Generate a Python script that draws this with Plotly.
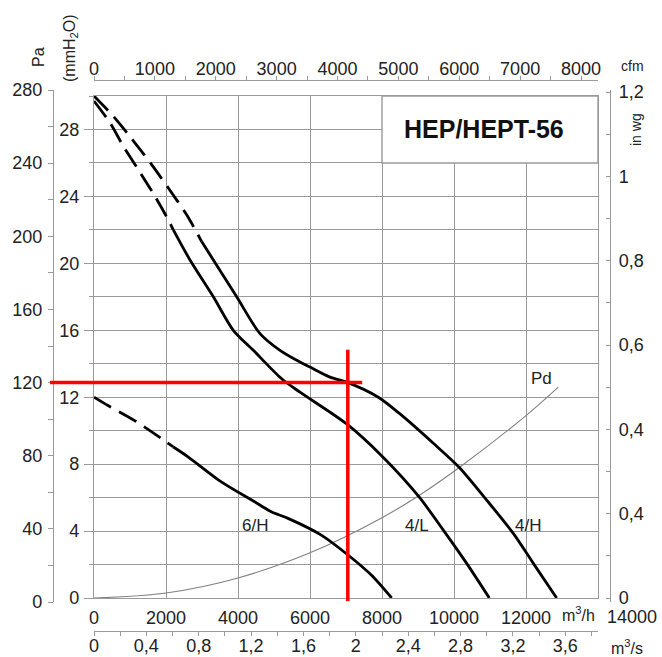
import plotly.graph_objects as go

# ---------------- data ----------------
# flow in m3/h, static pressure in mmH2O
flow_4H = [0, 490, 954, 1602, 2064, 2574, 2991, 3963, 4611, 5167, 5722, 6000, 6556,
           7019, 7897, 8500, 9425, 10147, 10908, 11647, 12203, 12852]
pres_4H = [30.0, 28.9, 27.7, 25.9, 24.5, 22.9, 21.3, 18.0, 15.8, 14.8, 14.1, 13.8, 13.2,
           12.9, 12.0, 11.0, 9.25, 7.8, 5.85, 3.86, 2.07, 0.0]
solid_from_4H = 2991

flow_4L = [0, 444, 815, 1231, 1694, 2064, 2204, 2667, 3315, 3870, 4426, 5213, 5722,
           7019, 8037, 9008, 9703, 10352, 10981]
pres_4L = [29.7, 28.4, 27.0, 25.6, 24.0, 22.6, 22.0, 20.2, 18.0, 16.0, 14.8, 13.1, 12.3,
           10.4, 8.4, 6.1, 4.06, 2.07, 0.0]
solid_from_4L = 2204

flow_6H = [0, 389, 1130, 2009, 2194, 2611, 3537, 4463, 4926, 5389, 6314, 7056, 7703, 8269]
pres_6H = [12.0, 11.5, 10.6, 9.33, 9.04, 8.44, 6.94, 5.75, 5.15, 4.76, 3.76, 2.57, 1.37, 0.0]
solid_from_6H = 2194

flow_Pd = [0, 2000, 4000, 6000, 8000, 9008, 10147, 12000, 12897]
pres_Pd = [0.0, 0.3, 1.2, 2.7, 4.8, 6.1, 7.8, 10.9, 12.6]

curve_names = ["4/H", "4/L", "6/H", "Pd"]
label_flow = [12064, 8963, 4464, 12435]
label_pres = [4.36, 4.36, 4.36, 13.1]

# operating point (red cross)
op_flow = 7050      # m3/h
op_pa = 120         # Pa

# axis tick labels
mh_ticks = [0, 2000, 4000, 6000, 8000, 10000, 12000]
mmh2o_ticks = [0, 4, 8, 12, 16, 20, 24, 28]
pa_ticks = [0, 40, 80, 120, 160, 200, 240, 280]
cfm_ticks = [0, 1000, 2000, 3000, 4000, 5000, 6000, 7000, 8000]
m3s_vals = [0, 0.4, 0.8, 1.2, 1.6, 2.0, 2.4, 2.8, 3.2, 3.6]
m3s_text = ["0", "0,4", "0,8", "1,2", "1,6", "2", "2,4", "2,8", "3,2", "3,6"]
inwg_vals = [0, 0.2, 0.4, 0.6, 0.8, 1.0, 1.2]
inwg_text = ["0", "0,4", "0,4", "0,6", "0,8", "1", "1,2"]
title_text = "HEP/HEPT-56"

# ---------------- layout geometry ----------------
W, H = 662, 657
ML, MR, MT, MB = 48, 40, 80, 26
PW, PH = W - ML - MR, H - MT - MB


def fx(px):
    return (px - ML) / PW


def fy(py):
    return (H - MB - py) / PH


X_L, X_R = 94, 598       # main plot area, pixels
Y_T, Y_B = 96, 598
FLOW_MAX = 14000

FONT = "Liberation Sans, Arial, sans-serif"
TXT = "#222222"
GRID = "#9a9a9a"
TICKFONT = dict(family=FONT, size=18, color=TXT)

fig = go.Figure()


def add_curve(flow, pres, solid_from):
    fd = [f for f in flow if f <= solid_from]
    pdv = [p for f, p in zip(flow, pres) if f <= solid_from]
    fs = [f for f in flow if f >= solid_from]
    ps = [p for f, p in zip(flow, pres) if f >= solid_from]
    fig.add_trace(go.Scatter(x=fd, y=pdv, mode="lines", line_shape="spline",
                             line=dict(color="black", width=2.8, dash="20px,9px", smoothing=0.8),
                             hoverinfo="skip", showlegend=False))
    fig.add_trace(go.Scatter(x=fs, y=ps, mode="lines", line_shape="spline",
                             line=dict(color="black", width=2.8, smoothing=0.8),
                             hoverinfo="skip", showlegend=False))


fig.add_trace(go.Scatter(x=flow_Pd, y=pres_Pd, mode="lines", line_shape="spline",
                         line=dict(color="#808080", width=1.1),
                         hoverinfo="skip", showlegend=False))
add_curve(flow_4H, pres_4H, solid_from_4H)
add_curve(flow_4L, pres_4L, solid_from_4L)
add_curve(flow_6H, pres_6H, solid_from_6H)

# invisible carrier traces so the secondary axes are drawn
dummy = dict(mode="markers", marker=dict(opacity=0, size=1), hoverinfo="skip", showlegend=False)
fig.add_trace(go.Scatter(x=[0], y=[0], xaxis="x2", yaxis="y", **dummy))
fig.add_trace(go.Scatter(x=[0], y=[0], xaxis="x3", yaxis="y", **dummy))
fig.add_trace(go.Scatter(x=[0], y=[0], xaxis="x4", yaxis="y2", **dummy))
fig.add_trace(go.Scatter(x=[0], y=[0], xaxis="x4", yaxis="y3", **dummy))

# Pa axis geometry (own domain, slightly taller than the plot)
PA_Y0, PA_Y1 = 602, 90
# in wg: 0 at 598, 1.2 at 92, overlaid on the Pa axis domain
wg_scale = (598 - 92) / 1.2
wg_lo = -(PA_Y0 - 598) / wg_scale
wg_hi = 1.2 + (92 - PA_Y1) / wg_scale
# cfm: 8000 cfm sits at x=581
cfm_scale = (581 - X_L) / 8000.0
cfm_lo = 0
cfm_hi = (X_R - X_L) / cfm_scale

common = dict(automargin=False, zeroline=False, fixedrange=True, exponentformat="none",
              separatethousands=False)

fig.update_layout(
    template="none",
    width=W, height=H,
    margin=dict(l=ML, r=MR, t=MT, b=MB, pad=0, autoexpand=False),
    paper_bgcolor="white", plot_bgcolor="rgba(0,0,0,0)",
    font=dict(family=FONT, color=TXT),
    showlegend=False,
    xaxis=dict(domain=[fx(X_L), fx(X_R)], range=[0, FLOW_MAX], anchor="y",
               tickvals=mh_ticks, ticktext=[str(v) for v in mh_ticks],
               ticks="", tickfont=TICKFONT, ticklabelstandoff=3,
               showgrid=True, gridcolor=GRID, gridwidth=1.4,
               showline=True, linecolor=GRID, linewidth=1.4, mirror=True, **common),
    yaxis=dict(domain=[fy(Y_B), fy(Y_T)], range=[0, 30], anchor="x",
               tickvals=mmh2o_ticks, ticks="outside", ticklen=9, tickcolor=GRID, tickwidth=1.4,
               tickfont=TICKFONT, ticklabelstandoff=1,
               minor=dict(dtick=2, tick0=0, ticks="outside", ticklen=4, tickcolor=GRID,
                          showgrid=True, gridcolor=GRID, gridwidth=1.4),
               showgrid=True, gridcolor=GRID, gridwidth=1.4,
               showline=True, linecolor=GRID, linewidth=1.4, mirror=True, **common),
    xaxis2=dict(overlaying="x", anchor="free", position=1, side="top",
                range=[cfm_lo, cfm_hi], tickvals=cfm_ticks,
                ticktext=[str(v) for v in cfm_ticks], ticks="outside", ticklen=4,
                tickcolor=GRID, tickwidth=1.2,
                minor=dict(dtick=500, tick0=0, ticks="outside", ticklen=4, tickcolor=GRID),
                tickfont=TICKFONT, ticklabelstandoff=-6,
                showgrid=False, showline=True, linecolor=GRID, linewidth=1.4, **common),
    xaxis3=dict(overlaying="x", anchor="free", position=0, side="bottom",
                range=[0, 3.85], tickvals=m3s_vals, ticktext=m3s_text,
                ticks="outside", ticklen=4, tickcolor=GRID, tickwidth=1.2,
                minor=dict(dtick=0.2, tick0=0, ticks="outside", ticklen=4, tickcolor=GRID),
                tickfont=TICKFONT, ticklabelstandoff=-6,
                showgrid=False, showline=True, linecolor=GRID, linewidth=1.4, **common),
    xaxis4=dict(domain=[fx(X_L), fx(X_R)], range=[0, FLOW_MAX], anchor="y2",
                visible=False, showgrid=False, **common),
    yaxis2=dict(domain=[fy(PA_Y0), fy(PA_Y1)], range=[0, 280], anchor="free",
                position=fx(53), side="left",
                tickvals=pa_ticks, ticks="outside", ticklen=5, tickcolor=GRID, tickwidth=1.2,
                minor=dict(dtick=20, tick0=0, ticks="outside", ticklen=5, tickcolor=GRID),
                tickfont=TICKFONT, ticklabelstandoff=2,
                showgrid=False, showline=True, linecolor=GRID, linewidth=1.4, **common),
    yaxis3=dict(overlaying="y2", anchor="free", position=fx(610), side="right",
                range=[wg_lo, wg_hi], tickvals=inwg_vals, ticktext=inwg_text,
                ticks="inside", ticklen=4, tickcolor=GRID, tickwidth=1.2,
                minor=dict(dtick=0.1, tick0=0, ticks="inside", ticklen=4, tickcolor=GRID),
                tickfont=TICKFONT, ticklabelstandoff=4,
                showgrid=False, showline=True, linecolor=GRID, linewidth=1.4, **common),
)

# title box (covers the grid in the top-right corner)
fig.add_shape(type="rect", xref="x", yref="y", x0=8000, x1=FLOW_MAX, y0=26, y1=30,
              fillcolor="white", line=dict(color=GRID, width=1.4), layer="above")
fig.add_annotation(x=10830, y=28.0, xref="x", yref="y", text="<b>" + title_text + "</b>",
                   showarrow=False, font=dict(family=FONT, size=25, color="#111"))

# curve labels
for name, lx, ly in zip(curve_names, label_flow, label_pres):
    fig.add_annotation(x=lx, y=ly, xref="x", yref="y", text=name, showarrow=False,
                       font=dict(family=FONT, size=17, color=TXT))


# operating point: red cross
def flow_to_paper(q):
    return fx(X_L + q / FLOW_MAX * (X_R - X_L))


fig.add_shape(type="line", xref="paper", yref="y2", x0=fx(50), x1=flow_to_paper(7450),
              y0=op_pa, y1=op_pa, line=dict(color="#ff0000", width=3.5), layer="above")
fig.add_shape(type="line", xref="x", yref="y2", x0=op_flow, x1=op_flow,
              y0=0.5, y1=138, line=dict(color="#ff0000", width=3.5), layer="above")

# axis unit labels
units = [
    ("Pa", 39, 57, -90, 16),
    ("(mmH<sub>2</sub>O)", 71, 48, -90, 16),
    ("cfm", 632, 66, 0, 14),
    ("in wg", 636, 130, -90, 14),
    ("m<sup>3</sup>/h", 578, 614, 0, 16),
    ("14000", 632, 617, 0, 18),
    ("m<sup>3</sup>/s", 627, 647, 0, 16),
]
for txt, px, py, ang, sz in units:
    fig.add_annotation(x=fx(px), y=fy(py), xref="paper", yref="paper", text=txt,
                       showarrow=False, textangle=ang, xanchor="center", yanchor="middle",
                       font=dict(family=FONT, size=sz, color=TXT))

fig.write_html("out.html")
